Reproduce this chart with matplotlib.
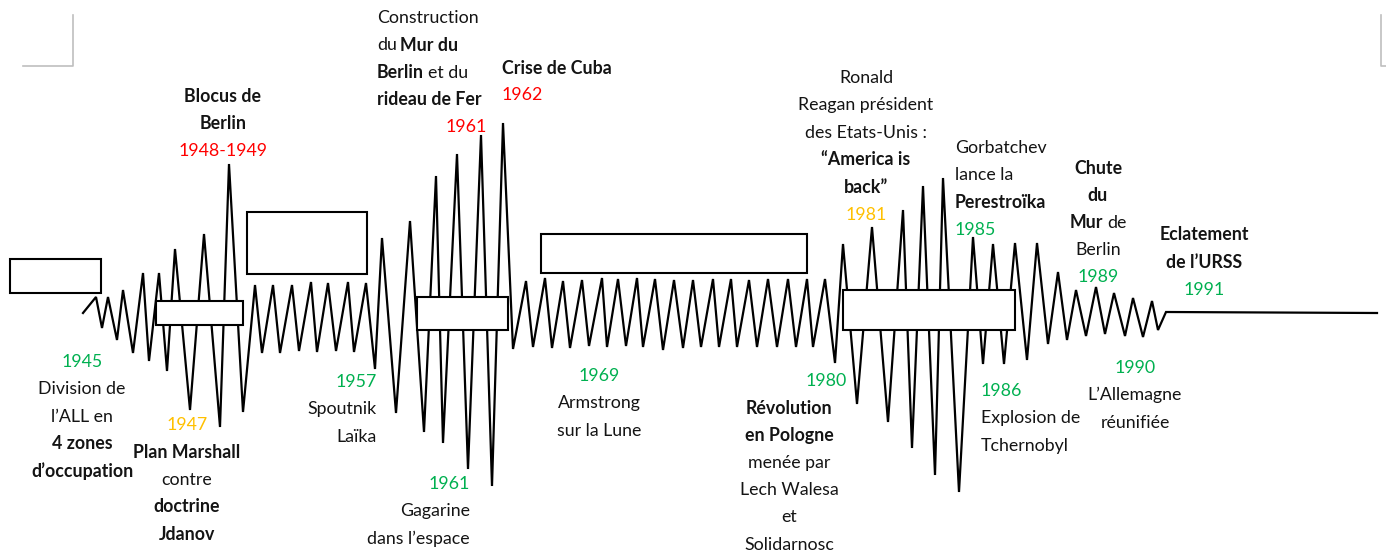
# Frise chronologique de la guerre froide (1945-1991)
import matplotlib.pyplot as plt
from matplotlib.patches import Rectangle

FONT = ['Lato', 'DejaVu Sans']
FS = 12.8
TEXT = '#141414'
COULEURS = {'n': TEXT, 'b': TEXT, 'g': '#00B050', 'r': '#FF0000', 'o': '#FFC000'}

# Sommets de la ligne brisée (coordonnées de la page, y vers le bas)
zig_x = [83, 96, 102, 108, 117, 123, 133, 143, 149, 159, 167, 175, 190, 204, 220, 229,
         243, 255, 262, 273, 280, 292, 299, 311, 317, 328, 336, 348, 354, 366, 375, 382,
         396, 410, 424, 436, 443, 457, 468, 481, 492, 503, 513, 526, 533, 545, 552, 563,
         570, 582, 589, 602, 607, 618, 626, 637, 643, 655, 663, 674, 683, 693, 701, 713,
         719, 731, 737, 749, 757, 768, 777, 788, 796, 807, 813, 825, 835, 843, 857, 872,
         888, 903, 912, 923, 935, 943, 959, 973, 983, 993, 1004, 1015, 1027, 1037, 1048,
         1058, 1067, 1076, 1086, 1096, 1105, 1114, 1125, 1133, 1143, 1152, 1158, 1166, 1377]
zig_y = [313, 297, 328, 297, 340, 290, 353, 273, 361, 273, 371, 249, 410, 234, 427, 164,
         412, 285, 353, 285, 353, 285, 351, 282, 352, 283, 351, 282, 352, 283, 369, 238,
         413, 221, 432, 176, 443, 154, 469, 135, 486, 123, 349, 281, 347, 278, 348, 281,
         348, 280, 346, 278, 347, 279, 346, 278, 347, 279, 350, 280, 348, 280, 347, 279,
         347, 279, 347, 280, 347, 279, 347, 279, 347, 279, 347, 279, 363, 244, 404, 227,
         422, 210, 448, 186, 475, 178, 492, 237, 364, 244, 364, 243, 360, 243, 344,
         272, 340, 290, 336, 287, 334, 293, 336, 298, 337, 301, 330, 312, 313]

# Cadres vides (à compléter)
rect_x = [10, 156, 247, 417, 541, 843]
rect_y = [259, 301, 212, 297, 234, 290]
rect_w = [91, 87, 120, 91, 266, 172]
rect_h = [34, 24, 62, 33, 39, 40]

# Blocs de texte : (x, y de la 1re ligne, alignement, lignes)
blocs = [
    (82, 362, 'center', [[('1945', 'g')], [('Division de', 'n')], [('l’ALL en', 'n')],
                         [('4 zones', 'b')], [('d’occupation', 'b')]]),
    (187, 425, 'center', [[('1947', 'o')], [('Plan Marshall', 'b')], [('contre', 'n')],
                          [('doctrine', 'b')], [('Jdanov', 'b')]]),
    (223, 96, 'center', [[('Blocus de', 'b')], [('Berlin', 'b')], [('1948-1949', 'r')]]),
    (377, 18, 'left', [[('Construction', 'n')], [('du', 'n'), ('Mur du', 'b')],
                       [('Berlin', 'b'), ('et du', 'n')], [('rideau de Fer', 'b')]]),
    (487, 127, 'right', [[('1961', 'r')]]),
    (502, 68, 'left', [[('Crise de Cuba', 'b')], [('1962', 'r')]]),
    (866, 78, 'center', [[('Ronald', 'n')], [('Reagan président', 'n')],
                         [('des Etats-Unis :', 'n')], [('“America is', 'b')],
                         [('back”', 'b')], [('1981', 'o')]]),
    (955, 148, 'left', [[('Gorbatchev', 'n')], [('lance la', 'n')],
                        [('Perestroïka', 'b')], [('1985', 'g')]]),
    (1098, 168, 'center', [[('Chute', 'b')], [('du', 'b')], [('Mur', 'b'), ('de', 'n')],
                           [('Berlin', 'n')], [('1989', 'g')]]),
    (1204, 235, 'center', [[('Eclatement', 'b')], [('de l’URSS', 'b')], [('1991', 'g')]]),
    (826, 381, 'center', [[('1980', 'g')]]),
    (789, 408, 'center', [[('Révolution', 'b')], [('en Pologne', 'b')], [('menée par', 'n')],
                          [('Lech Walesa', 'n')], [('et', 'n')], [('Solidarnosc', 'n')]]),
    (599, 376, 'center', [[('1969', 'g')], [('Armstrong', 'n')], [('sur la Lune', 'n')]]),
    (377, 382, 'right', [[('1957', 'g')], [('Spoutnik', 'n')], [('Laïka', 'n')]]),
    (470, 484, 'right', [[('1961', 'g')], [('Gagarine', 'n')], [('dans l’espace', 'n')]]),
    (981, 391, 'left', [[('1986', 'g')], [('Explosion de', 'n')], [('Tchernobyl', 'n')]]),
    (1135, 368, 'center', [[('1990', 'g')], [('L’Allemagne', 'n')], [('réunifiée', 'n')]]),
]
INTERLIGNE = 27.3

fig = plt.figure(figsize=(13.86, 5.55), dpi=100)
ax = fig.add_axes([0, 0, 1, 1])
ax.set_xlim(0, 1386)
ax.set_ylim(555, 0)
ax.axis('off')
renderer = fig.canvas.get_renderer()

# Repères de coin (gris)
ax.plot([23, 72.5, 72.5], [66, 66, 15], color='#BFBFBF', lw=1.2, zorder=1)
ax.plot([1381, 1381, 1386], [15, 66, 66], color='#BFBFBF', lw=1.2, zorder=1)

# Ligne brisée
ax.plot(zig_x, zig_y, color='black', lw=1.6, solid_joinstyle='miter', zorder=1)

for x, y, w, h in zip(rect_x, rect_y, rect_w, rect_h):
    ax.add_patch(Rectangle((x, y), w, h, facecolor='white', edgecolor='black',
                           lw=1.5, zorder=2))

espace = FS * 100 / 72 * 0.2


def ecrire_ligne(x, y, morceaux, ha):
    textes = []
    for s, style in morceaux:
        t = ax.text(0, y, s, fontsize=FS, family=FONT, color=COULEURS[style],
                    fontweight='bold' if style == 'b' else 'normal',
                    ha='left', va='center', zorder=3)
        textes.append(t)
    largeurs = [t.get_window_extent(renderer).width for t in textes]
    total = sum(largeurs) + espace * (len(largeurs) - 1)
    if ha == 'center':
        x0 = x - total / 2
    elif ha == 'right':
        x0 = x - total
    else:
        x0 = x
    for t, w in zip(textes, largeurs):
        t.set_x(x0)
        x0 += w + espace


for x, y, ha, lignes in blocs:
    for i, morceaux in enumerate(lignes):
        ecrire_ligne(x, y + i * INTERLIGNE, morceaux, ha)

fig.savefig('out.png', dpi=100, facecolor='white')
